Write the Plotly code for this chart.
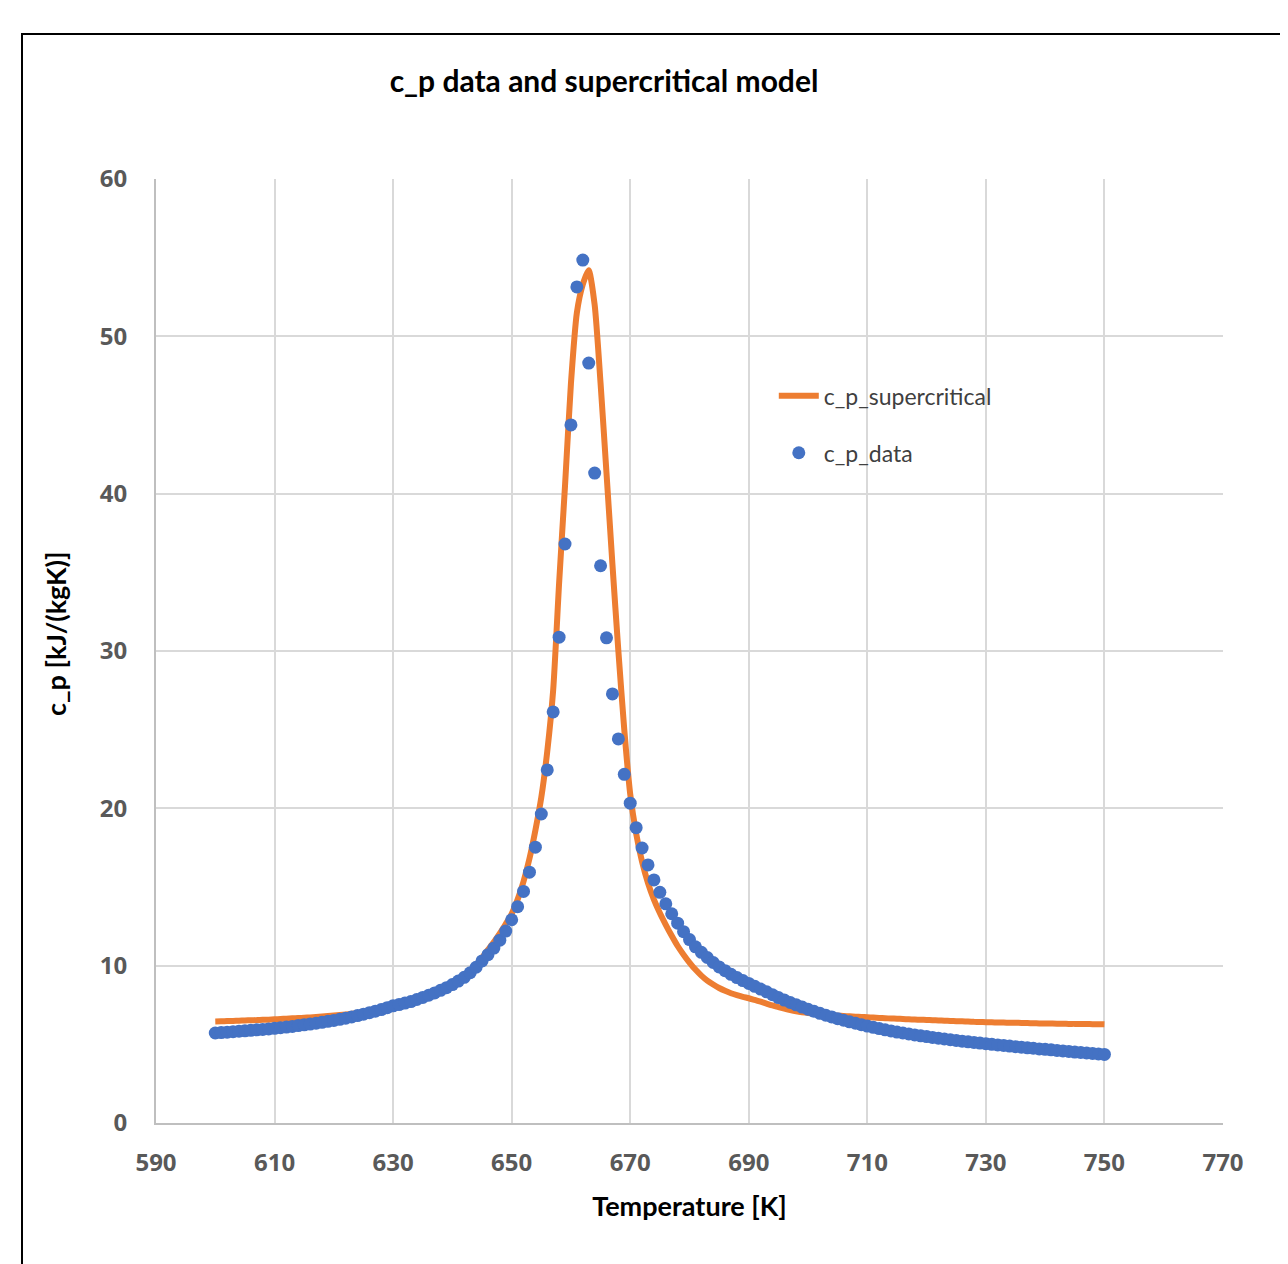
import plotly.graph_objects as go

temperature = list(range(600, 751))

cp_data = [
    5.72, 5.75, 5.77, 5.80, 5.83, 5.86, 5.89, 5.92, 5.95, 5.98,   # 600-609
    6.02, 6.06, 6.10, 6.14, 6.19, 6.24, 6.29, 6.34, 6.40, 6.46,   # 610-619
    6.52, 6.59, 6.66, 6.74, 6.83, 6.92, 7.01, 7.11, 7.21, 7.33,   # 620-629
    7.45, 7.53, 7.62, 7.72, 7.85, 7.98, 8.12, 8.27, 8.43, 8.60,   # 630-639
    8.80, 9.02, 9.26, 9.55, 9.90, 10.30, 10.70, 11.12, 11.62, 12.20,  # 640-649
    12.92, 13.75, 14.72, 15.94, 17.53, 19.64, 22.44, 26.13, 30.88, 36.80,  # 650-659
    44.37, 53.14, 54.85, 48.30, 41.31, 35.42, 30.84, 27.27, 24.41, 22.16,  # 660-669
    20.33, 18.77, 17.48, 16.40, 15.45, 14.66, 13.93, 13.30, 12.70, 12.16,  # 670-679
    11.66, 11.20, 10.85, 10.52, 10.20, 9.92, 9.68, 9.45, 9.24, 9.05,   # 680-689
    8.87, 8.69, 8.51, 8.34, 8.15, 7.97, 7.81, 7.66, 7.51, 7.37,   # 690-699
    7.23, 7.10, 6.97, 6.85, 6.74, 6.63, 6.53, 6.43, 6.34, 6.25,   # 700-709
    6.16, 6.08, 6.00, 5.92, 5.85, 5.78, 5.72, 5.66, 5.60, 5.54,   # 710-719
    5.49, 5.44, 5.39, 5.34, 5.29, 5.25, 5.20, 5.16, 5.12, 5.08,   # 720-729
    5.04, 5.00, 4.96, 4.93, 4.89, 4.85, 4.82, 4.78, 4.75, 4.71,   # 730-739
    4.68, 4.65, 4.61, 4.58, 4.55, 4.51, 4.48, 4.45, 4.42, 4.39,   # 740-749
    4.36,                                                         # 750
]

cp_supercritical = [
    6.45, 6.46, 6.48, 6.49, 6.50, 6.52, 6.53, 6.54, 6.56, 6.57,   # 600-609
    6.59, 6.61, 6.63, 6.65, 6.67, 6.69, 6.71, 6.74, 6.77, 6.80,   # 610-619
    6.83, 6.86, 6.90, 6.94, 6.98, 7.03, 7.08, 7.14, 7.20, 7.27,   # 620-629
    7.35, 7.43, 7.52, 7.62, 7.73, 7.85, 7.98, 8.13, 8.30, 8.50,   # 630-639
    8.73, 9.00, 9.30, 9.65, 10.05, 10.50, 11.00, 11.50, 12.05, 12.65,  # 640-649
    13.30, 14.20, 15.35, 16.80, 18.60, 20.70, 23.60, 27.50, 34.30, 40.50,  # 650-659
    47.00, 51.50, 53.30, 54.20, 52.00, 47.00, 41.30, 35.50, 30.00, 25.00,  # 660-669
    20.90, 18.40, 16.60, 15.25, 14.20, 13.35, 12.60, 11.90, 11.25, 10.70,  # 670-679
    10.20, 9.75, 9.37, 9.05, 8.80, 8.58, 8.40, 8.25, 8.13, 8.02,   # 680-689
    7.93, 7.82, 7.71, 7.59, 7.47, 7.37, 7.27, 7.18, 7.10, 7.04,   # 690-699
    6.99, 6.95, 6.91, 6.88, 6.85, 6.82, 6.80, 6.78, 6.76, 6.74,   # 700-709
    6.72, 6.70, 6.68, 6.66, 6.64, 6.63, 6.61, 6.59, 6.58, 6.56,   # 710-719
    6.55, 6.53, 6.52, 6.50, 6.49, 6.47, 6.46, 6.45, 6.43, 6.42,   # 720-729
    6.41, 6.40, 6.39, 6.38, 6.37, 6.37, 6.36, 6.35, 6.34, 6.33,   # 730-739
    6.33, 6.32, 6.31, 6.31, 6.30, 6.30, 6.29, 6.29, 6.28, 6.28,   # 740-749
    6.27,                                                         # 750
]

x_ticks = [590, 610, 630, 650, 670, 690, 710, 730, 750, 770]
y_ticks = [0, 10, 20, 30, 40, 50, 60]

fig = go.Figure()
fig.add_trace(go.Scatter(
    x=temperature, y=cp_supercritical, mode="lines", name="c_p_supercritical",
    line=dict(color="#ED7D31", width=6, shape="spline", smoothing=0.6),
    legendgroup="a",
))
fig.add_trace(go.Scatter(
    x=temperature, y=cp_data, mode="markers", name="c_p_data",
    marker=dict(color="#4472C4", size=13),
    legendgroup="b",
))

tick_font = dict(family="Open Sans", size=24, color="#595959", weight="bold")
title_font = dict(family="Lato", size=27, color="#000000", weight="bold")

# page body adds an 8 px offset; margins compensate so the plot area sits at
# x 156..1223, y 179..1123 in the window
fig.update_layout(
    width=1288, height=1264,
    margin=dict(l=148, r=73, t=171, b=149),
    paper_bgcolor="white", plot_bgcolor="white",
    title=dict(text="c_p data and supercritical model", x=(604 - 8) / 1288, xanchor="center",
               y=1 - (81 - 8) / 1264, yanchor="middle", yref="container",
               font=dict(family="Lato", size=30, color="#000000", weight="bold")),
    legend=dict(x=0.579, y=0.793, xanchor="left", yanchor="top",
                font=dict(family="Lato", size=23, color="#404040"),
                bgcolor="rgba(0,0,0,0)", tracegroupgap=24, traceorder="grouped",
                itemwidth=40),
    showlegend=True,
    shapes=[dict(type="rect", xref="paper", yref="paper",
                 x0=(22 - 156) / 1067, x1=1.2, y0=-0.3, y1=(1123 - 34) / 944,
                 line=dict(color="#000000", width=2), layer="above")],
    annotations=[dict(text="c_p [kJ/(kgK)]", textangle=-90, showarrow=False,
                      xref="paper", yref="paper", x=(55 - 156) / 1067, y=(1123 - 634) / 944,
                      xanchor="center", yanchor="middle", font=title_font)],
)
fig.update_xaxes(
    range=[590, 770], tickvals=x_ticks, ticktext=[str(v) for v in x_ticks],
    showgrid=True, gridcolor="#D9D9D9", gridwidth=1.5,
    showline=True, linecolor="#BFBFBF", linewidth=2, zeroline=False,
    ticks="", tickfont=tick_font, ticklabelstandoff=17,
    title=dict(text="Temperature [K]", font=title_font, standoff=20),
)
fig.update_yaxes(
    range=[0, 60], tickvals=y_ticks, ticktext=[str(v) for v in y_ticks],
    showgrid=True, gridcolor="#D9D9D9", gridwidth=1.5,
    showline=True, linecolor="#BFBFBF", linewidth=2, zeroline=False,
    ticks="", tickfont=tick_font, ticklabelstandoff=22,
)

fig.write_html("out.html")
